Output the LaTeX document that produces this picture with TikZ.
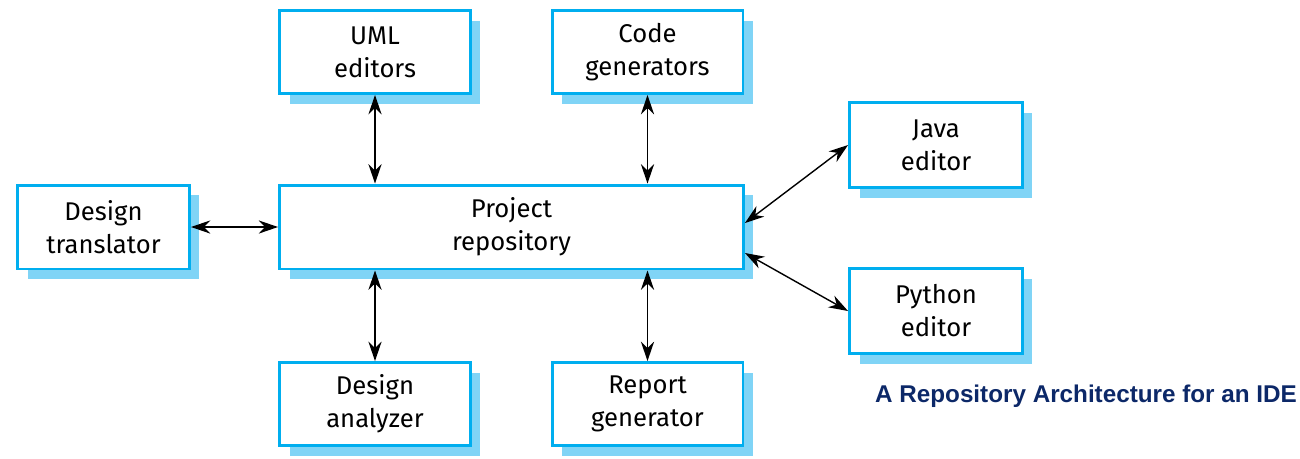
\documentclass[tikz,border=0pt]{standalone}
\usepackage{fontspec}
\setmainfont{Fira Sans}
\newfontfamily\captionfont{Liberation Sans}
\usepackage{tikz}
\usetikzlibrary{arrows.meta,positioning,calc,shadows}
\definecolor{boxBlue}{RGB}{0,174,239}
\definecolor{shadowBlue}{RGB}{128,212,246}
\definecolor{captionNavy}{RGB}{12,40,104}

\begin{document}
\begin{tikzpicture}[
        x=0.02cm, y=-0.02cm,
        >={Stealth[length=11pt,width=7.5pt]},
        tool/.style={rectangle, draw=boxBlue, line width=1.7pt, fill=white,
          minimum width=3.82cm, minimum height=1.66cm, align=center,
          font=\fontsize{14.6}{18.8}\selectfont,
          drop shadow={shadow xshift=0.2cm, shadow yshift=-0.2cm,
            fill=shadowBlue, opacity=1, rounded corners=1pt}},
        link/.style={<->, line width=0.8pt}
      ]
        \useasboundingbox (0,0) rectangle (1300,458);
        % Tools around the repository
        \node[tool] (uml) at (375,52) {UML\\editors};
        \node[tool] (code) at (647.5,52) {Code\\generators};
        \node[tool, minimum width=3.46cm, minimum height=1.7cm] (java) at (936,145) {Java\\editor};
        \node[tool, minimum width=3.44cm, minimum height=1.68cm] (trans) at (103.5,227) {Design\\translator};
        \node[tool, minimum width=9.28cm, minimum height=1.68cm] (repo) at (511.5,227) {Project\\repository};
        \node[tool, minimum width=3.46cm, minimum height=1.7cm] (python) at (936,311) {Python\\editor};
        \node[tool] (analyzer) at (375,404) {Design\\analyzer};
        \node[tool] (report) at (647.5,404) {Report\\generator};
        % Links to the repository
        \draw[link] (uml) -- (uml |- repo.north);
        \draw[link] (code) -- (code |- repo.north);
        \draw[link] (trans) -- (repo);
        \draw[link] ([yshift=0.08cm]repo.east) -- (java.west);
        \draw[link] ([yshift=-0.52cm]repo.east) -- (python.west);
        \draw[link] (analyzer) -- (analyzer |- repo.south);
        \draw[link] (report) -- (report |- repo.south);
        % Caption
        \node[font=\captionfont\bfseries\fontsize{13.8}{16}\selectfont,
          text=captionNavy] (title) at (1086,396) {A Repository Architecture for an IDE};
      \end{tikzpicture}
\end{document}
